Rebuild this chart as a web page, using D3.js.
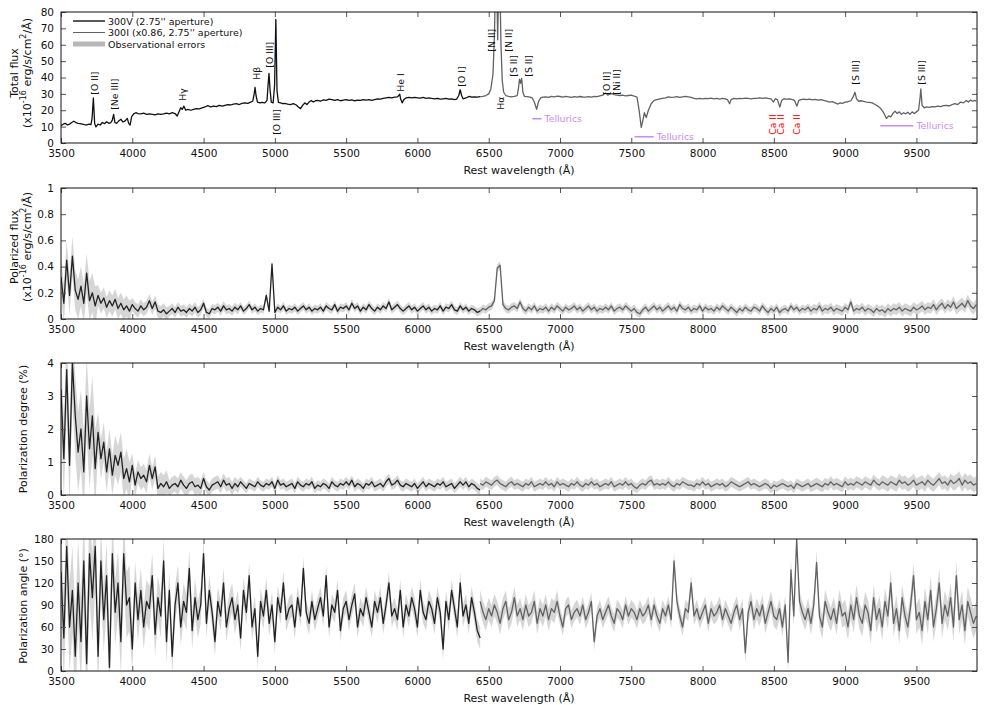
<!DOCTYPE html>
<html><head><meta charset="utf-8">
<script src="https://cdn.jsdelivr.net/npm/d3@7"></script>
<style>body{margin:0;background:#fff} text{font-family:"DejaVu Sans",sans-serif}</style>
</head><body><svg id="c" width="996" height="705"></svg>
<script>
// ---------------- DATA ----------------
const xTicks = [3500,4000,4500,5000,5500,6000,6500,7000,7500,8000,8500,9000,9500];
const tfTicks = [0,10,20,30,40,50,60,70,80];
const pfTicks = [0,0.2,0.4,0.6,0.8,1];
const pdTicks = [0,1,2,3,4];
const paTicks = [0,30,60,90,120,150,180];
const tfTickLabels = ["0","10","20","30","40","50","60","70","80"];
const pfTickLabels = ["0","0.2","0.4","0.6","0.8","1"];

// Total flux, 300V [wavelength, flux]
const tfV = [[3500,10.5],[3515,11.5],[3530,12],[3545,11],[3560,11.5],[3575,12.5],[3590,13.3],[3605,12.5],[3620,12],[3635,11.8],[3650,11.5],[3665,11.2],[3680,11],[3695,11.5],[3710,11.2],[3718,15],[3727,27.5],[3736,12],[3745,9.8],[3760,11.5],[3775,11],[3790,12.5],[3805,11.8],[3820,13],[3835,12],[3850,12.5],[3860,14],[3869,17.5],[3878,12.5],[3890,12],[3905,13.5],[3920,14.5],[3935,12.8],[3950,13.5],[3965,15],[3975,12],[3985,11],[3995,16],[4010,17.8],[4025,18.5],[4040,18],[4060,17.8],[4080,18.2],[4100,17.5],[4120,17.8],[4140,17.5],[4160,17.2],[4180,17.8],[4200,17.5],[4220,17.8],[4240,18.2],[4260,17.8],[4280,18.5],[4300,18],[4315,16.5],[4330,19.5],[4340,21.5],[4350,20.5],[4362,22.5],[4375,20],[4390,20.5],[4410,20],[4430,20.5],[4450,21],[4470,20.8],[4490,21.5],[4510,22],[4530,22.8],[4550,22],[4570,22.5],[4590,22.2],[4610,23],[4630,22.5],[4650,23],[4670,23.5],[4690,23.2],[4710,23.8],[4730,24],[4750,23.5],[4770,24.2],[4790,24.5],[4810,24.2],[4830,25],[4845,25.5],[4855,30],[4861,34],[4868,29],[4878,25],[4895,24.5],[4910,24.8],[4930,24.5],[4945,26],[4953,36],[4959,42.5],[4966,33],[4975,25],[4988,24.5],[4998,35],[5007,75.5],[5015,32],[5025,24.8],[5040,24.5],[5055,24],[5070,24.2],[5090,23.8],[5110,23.5],[5130,24],[5150,23.2],[5165,22],[5180,21],[5195,23],[5210,24.5],[5225,23.5],[5240,25],[5255,26],[5270,25],[5285,25.8],[5300,26],[5320,25.5],[5340,26.3],[5360,26],[5380,26.8],[5400,26.5],[5420,26],[5440,26.5],[5460,25.8],[5480,26.2],[5500,26.5],[5520,26],[5540,26.3],[5560,25.8],[5580,26.2],[5600,26],[5620,26.5],[5640,26.2],[5660,26.5],[5680,26],[5700,26.5],[5720,27],[5740,26.8],[5760,27.2],[5780,27.5],[5800,27.8],[5820,27.5],[5840,28],[5860,28.2],[5870,29],[5876,29.8],[5882,27],[5893,24.5],[5905,26.5],[5920,27.5],[5940,27.8],[5960,27.5],[5980,27.8],[6000,27.6],[6020,27.4],[6040,27.8],[6060,27.3],[6080,27.5],[6100,27.2],[6120,27],[6140,27.3],[6160,26.8],[6180,27],[6200,27.2],[6220,26.8],[6240,27],[6260,26.5],[6275,26.8],[6290,29],[6300,32.5],[6310,29],[6320,27],[6340,27.5],[6364,28.5],[6380,28],[6400,28.2],[6420,28],[6440,28.3]];

// Total flux, 300I (x0.86) [wavelength, flux]
const tfI = [[6440,28.3],[6460,28.5],[6480,29],[6500,30],[6515,33],[6530,42],[6540,65],[6548,100],[6556,100],[6563,63],[6570,100],[6578,100],[6586,60],[6595,38],[6605,31],[6620,29],[6640,28.5],[6660,28.2],[6680,28.5],[6700,29],[6708,33],[6716,39],[6723,36.5],[6731,39.5],[6740,31],[6750,28.5],[6770,28.3],[6790,28],[6805,27.5],[6820,25],[6836,20.5],[6850,25.5],[6865,27.5],[6880,28],[6900,28.2],[6920,27.8],[6940,28.5],[6960,28.2],[6980,28.6],[7000,28.4],[7020,28],[7040,28.5],[7060,28.2],[7080,27.8],[7100,28.3],[7120,28],[7140,28.4],[7160,28.1],[7180,28],[7200,28.3],[7220,28],[7240,28.5],[7260,28.3],[7280,28.8],[7300,29.2],[7320,30.5],[7335,29.3],[7350,29.8],[7365,30.2],[7380,29.5],[7400,29.3],[7420,29],[7440,29.2],[7460,28.8],[7480,29],[7500,29.2],[7520,28.7],[7540,28],[7555,20],[7570,9.5],[7582,14],[7592,18.5],[7605,15.5],[7620,20],[7640,24],[7660,26],[7680,26.5],[7700,27],[7720,27.3],[7740,27.6],[7760,28.2],[7780,27.8],[7800,28],[7820,28.3],[7840,27.9],[7860,28.2],[7880,28.5],[7900,28.2],[7920,27.8],[7940,27.2],[7960,27],[7980,27.3],[8000,27],[8020,27.3],[8040,27.1],[8060,27.4],[8080,27],[8100,27.2],[8120,26.8],[8140,27.2],[8160,27],[8175,26.5],[8190,24],[8200,26.5],[8220,27.2],[8240,27],[8260,27.3],[8280,27.1],[8300,27.4],[8320,27.2],[8340,27],[8360,27.3],[8380,27.2],[8400,27.5],[8420,27.3],[8440,27.5],[8460,27.2],[8480,27],[8498,25],[8510,27],[8525,26.5],[8542,22],[8555,26],[8570,27],[8590,26.8],[8610,27],[8630,26.5],[8645,26],[8662,22.5],[8675,26],[8690,26.5],[8710,26.8],[8730,26.5],[8750,26.8],[8770,26.4],[8790,26.7],[8810,26.2],[8830,26.5],[8850,26],[8870,25.5],[8890,25],[8910,25.3],[8930,24.5],[8950,23.8],[8965,24.5],[8980,24.2],[9000,25],[9020,25.2],[9040,25.8],[9055,28],[9069,31],[9080,27],[9095,25.5],[9110,25.8],[9130,25.4],[9150,25],[9170,24.8],[9190,24.5],[9210,23.5],[9230,22.5],[9250,21],[9270,18.5],[9290,15],[9305,16.5],[9320,16],[9335,18],[9350,19.5],[9365,18],[9380,19],[9395,17.5],[9410,18.5],[9425,17.8],[9440,18.8],[9455,17.5],[9470,19],[9485,18],[9500,19],[9515,20],[9525,27],[9531,33],[9540,23],[9555,21.5],[9570,22],[9590,21.8],[9610,22.2],[9630,22],[9650,22.5],[9670,22.2],[9690,22.8],[9710,23],[9730,22.6],[9750,23.4],[9770,24],[9790,23.5],[9810,25],[9830,24.5],[9850,26],[9865,25],[9880,26.2],[9895,25.5],[9910,26],[9920,25.5]];

// Sampled spectra: 300V from 3500 Å, 300I from 6440 Å, every 20 Å
const startV = 3500, startI = 6440, stepA = 20;

const pfV = [0.32,0.12,0.45,0.18,0.48,0.22,0.15,0.25,0.12,0.35,0.14,
0.20,0.10,0.18,0.12,0.16,0.09,0.14,0.10,0.15,0.08,
0.12,0.07,0.10,0.06,0.11,0.08,0.06,0.10,0.07,0.09,
0.14,0.08,0.13,0.06,0.05,0.07,0.04,0.06,0.08,0.05,
0.09,0.06,0.07,0.05,0.08,0.06,0.09,0.05,0.07,0.12,
0.05,0.04,0.08,0.07,0.09,0.06,0.10,0.07,0.08,0.06,
0.09,0.07,0.10,0.06,0.08,0.11,0.07,0.09,0.06,0.08,
0.07,0.18,0.06,0.42,0.05,0.09,0.07,0.10,0.06,0.08,
0.07,0.09,0.06,0.08,0.10,0.07,0.09,0.06,0.08,0.07,
0.09,0.06,0.10,0.08,0.07,0.11,0.06,0.09,0.08,0.10,
0.07,0.12,0.08,0.10,0.06,0.09,0.07,0.11,0.08,0.06,
0.09,0.07,0.10,0.08,0.13,0.07,0.09,0.11,0.08,0.06,
0.08,0.10,0.07,0.09,0.06,0.08,0.10,0.07,0.09,0.06,
0.08,0.07,0.10,0.06,0.09,0.08,0.11,0.07,0.06,0.10,
0.07,0.09,0.06,0.08,0.07,0.05,0.06];
const pfI = [0.06,0.08,0.07,0.09,
0.10,0.14,0.39,0.41,0.11,0.08,0.07,0.09,0.10,0.08,
0.13,0.08,0.06,0.09,0.07,0.10,0.06,0.08,0.07,0.09,
0.06,0.09,0.07,0.10,0.08,0.06,0.09,0.07,0.08,0.10,
0.07,0.09,0.06,0.08,0.10,0.07,0.09,0.06,0.08,0.07,
0.09,0.07,0.10,0.06,0.08,0.09,0.07,0.10,0.08,0.06,
0.08,0.05,0.04,0.07,0.09,0.06,0.08,0.10,0.07,0.09,
0.06,0.08,0.10,0.07,0.09,0.06,0.11,0.08,0.07,0.09,
0.06,0.08,0.07,0.10,0.06,0.09,0.07,0.08,0.06,0.09,
0.07,0.10,0.08,0.06,0.09,0.07,0.05,0.08,0.06,0.09,
0.07,0.06,0.09,0.08,0.06,0.10,0.07,0.05,0.08,0.06,
0.09,0.05,0.07,0.08,0.06,0.10,0.07,0.09,0.06,0.08,
0.07,0.09,0.06,0.08,0.07,0.10,0.06,0.08,0.07,0.09,
0.06,0.08,0.07,0.06,0.09,0.07,0.13,0.06,0.08,0.07,
0.09,0.06,0.08,0.07,0.05,0.08,0.06,0.07,0.05,0.08,
0.06,0.08,0.07,0.09,0.06,0.08,0.07,0.06,0.09,0.07,
0.08,0.10,0.07,0.09,0.08,0.11,0.07,0.10,0.12,0.08,
0.11,0.09,0.13,0.08,0.10,0.12,0.09,0.14,0.10,0.08,
0.11];

const pdV = [3.2,1.1,3.8,0.9,4.0,2.4,1.3,2.0,0.7,3.0,1.4,
2.4,0.8,1.9,1.1,1.6,0.7,1.4,0.6,1.2,0.9,
1.3,0.5,0.8,0.4,0.9,0.3,0.7,0.5,0.6,0.4,
0.9,0.5,0.85,0.2,0.35,0.25,0.4,0.2,0.3,0.35,
0.25,0.45,0.3,0.2,0.35,0.4,0.25,0.3,0.2,0.5,
0.25,0.15,0.3,0.35,0.4,0.25,0.45,0.3,0.35,0.2,
0.35,0.25,0.4,0.3,0.2,0.35,0.3,0.25,0.4,0.3,
0.25,0.35,0.3,0.4,0.2,0.45,0.3,0.35,0.25,0.3,
0.35,0.2,0.4,0.3,0.25,0.35,0.3,0.4,0.2,0.3,
0.25,0.35,0.3,0.2,0.4,0.3,0.25,0.35,0.3,0.4,
0.3,0.45,0.25,0.35,0.3,0.2,0.35,0.3,0.4,0.25,
0.3,0.35,0.25,0.4,0.5,0.3,0.35,0.45,0.3,0.25,
0.35,0.3,0.25,0.35,0.2,0.3,0.4,0.25,0.35,0.3,
0.25,0.35,0.3,0.4,0.25,0.3,0.35,0.2,0.3,0.4,
0.3,0.4,0.25,0.35,0.3,0.2,0.15];
const pdI = [0.35,0.3,0.4,0.35,
0.3,0.4,0.45,0.35,0.3,0.25,0.35,0.4,0.3,0.35,
0.3,0.25,0.35,0.3,0.4,0.25,0.3,0.35,0.3,0.4,
0.3,0.35,0.25,0.4,0.3,0.35,0.3,0.25,0.35,0.3,
0.4,0.3,0.25,0.35,0.3,0.4,0.3,0.35,0.25,0.3,
0.35,0.3,0.4,0.25,0.3,0.35,0.3,0.4,0.3,0.35,
0.25,0.2,0.3,0.35,0.3,0.4,0.45,0.3,0.35,0.3,
0.35,0.3,0.4,0.3,0.25,0.35,0.3,0.4,0.35,0.3,
0.3,0.25,0.35,0.3,0.4,0.3,0.35,0.25,0.3,0.35,
0.3,0.35,0.25,0.3,0.4,0.35,0.3,0.25,0.3,0.35,
0.4,0.3,0.35,0.3,0.25,0.3,0.35,0.3,0.2,0.3,
0.25,0.3,0.35,0.3,0.25,0.3,0.2,0.35,0.3,0.25,
0.3,0.35,0.25,0.3,0.35,0.3,0.25,0.35,0.3,0.4,
0.3,0.35,0.3,0.25,0.4,0.3,0.35,0.3,0.4,0.35,
0.3,0.4,0.35,0.3,0.45,0.35,0.3,0.4,0.35,0.3,
0.4,0.35,0.3,0.45,0.35,0.4,0.3,0.35,0.45,0.3,
0.35,0.4,0.3,0.45,0.35,0.3,0.4,0.5,0.35,0.4,
0.3,0.45,0.35,0.4,0.5,0.3,0.45,0.35,0.4,0.3,
0.35];

const paV = [135,45,170,60,110,20,120,40,150,10,160,
100,170,20,150,70,130,5,160,80,120,
40,160,90,100,30,120,70,110,60,95,
85,130,50,100,75,150,40,110,20,90,
120,60,95,80,140,55,100,70,90,160,
65,110,80,40,95,75,120,60,85,100,
70,90,45,110,80,130,60,85,20,95,
75,110,65,90,40,100,80,120,70,85,
90,60,100,75,140,80,65,95,70,85,
100,75,130,60,90,80,110,55,85,95,
70,90,105,60,85,75,100,80,60,95,
80,100,65,90,120,75,85,70,110,60,
90,75,100,85,60,110,80,70,95,85,
65,100,80,30,95,70,110,85,60,120,
75,90,65,100,80,55,45];
const paI = [95,80,70,85,
75,90,80,65,85,95,70,80,100,75,
85,70,90,75,80,95,65,85,75,90,
70,85,80,95,75,60,85,90,70,80,
85,75,90,70,80,95,40,75,85,70,
80,90,75,65,85,80,70,90,75,85,
80,70,85,75,80,90,70,90,75,65,
85,75,90,70,150,95,75,60,85,80,
120,75,85,70,80,90,65,85,75,80,
90,70,85,75,65,80,90,70,85,25,
80,95,70,85,75,90,65,80,95,75,
70,85,60,90,12,138,75,180,95,80,
70,85,65,90,148,75,60,95,80,70,
85,65,95,75,80,60,90,70,100,75,
65,90,80,55,100,70,85,60,95,75,
120,65,85,55,100,75,60,90,130,70,
80,55,95,70,110,60,85,120,65,90,
75,100,60,130,70,90,55,95,80,65,
75];

// Observational errors, one value per 250 Å bin starting at 3500 Å
const errBin = 250;
const pfErr = [0.15,0.08,0.05,0.04,0.035,0.03,0.03,0.03,0.03,0.03,0.03,0.03,0.03,0.03,0.03,0.03,0.03,0.03,0.03,0.03,0.03,0.035,0.035,0.04,0.04,0.045];
const pdErr = [1.2,0.6,0.35,0.25,0.2,0.15,0.15,0.15,0.15,0.15,0.15,0.15,0.15,0.15,0.15,0.15,0.15,0.15,0.15,0.15,0.15,0.17,0.17,0.2,0.2,0.22];
const paErr = [60,45,30,25,20,18,16,15,15,15,15,15,15,15,12,12,12,12,12,14,14,16,18,18,20,20];

// Line identifications (label, wavelength where label sits, flux level of its lower end)
const lineNames = ["[O II]","[Ne III]","Hγ","Hβ","[O III]","[O III]","He I","[O I]","[N II]","Hα","[N II]","[S II]","[S II]","[O II]","[Ni II]","[S III]","[S III]"];
const lineWaves = [3738,3878,4355,4874,4965,5014,5883,6311,6521,6582,6640,6675,6780,7325,7397,9072,9535];
const lineLevels = [29.5,20.3,25.8,38.7,46,5,31.3,34.4,55.8,20.3,55.8,40.5,40.5,29.5,29.5,35.6,35.6];
const caNames = ["Ca II","Ca II","Ca II"];
const caWaves = [8488,8547,8659];
const caLevel = 5;
// Telluric bands [from, to], label level
const tellFrom = [6806,7523,9247];
const tellTo = [6871,7657,9479];
const tellLevel = [14.8,3.8,10.5];

const legendNames = ["300V (2.75'' aperture)","300I (x0.86, 2.75'' aperture)","Observational errors"];

// ---------------- DRAW ----------------
const svg = d3.select("#c");
const L = 61, R = 977;
const x = d3.scaleLinear().domain([3500, 9925]).range([L, R]);
const panels = [
  {top:12, bot:143, dom:[0,80], ticks:tfTicks, labels:tfTickLabels},
  {top:188, bot:319, dom:[0,1], ticks:pfTicks, labels:pfTickLabels},
  {top:363, bot:495, dom:[0,4], ticks:pdTicks},
  {top:539, bot:671, dom:[0,180], ticks:paTicks}
];
const C_V = "#111", C_I = "#626262", C_ERR = "#cfcfcf";

panels.forEach((p, i) => {
  p.y = d3.scaleLinear().domain(p.dom).range([p.bot, p.top]);
  svg.append("clipPath").attr("id", "cp" + i).append("rect")
    .attr("x", L).attr("y", p.top).attr("width", R - L).attr("height", p.bot - p.top);
  p.g = svg.append("g").attr("clip-path", `url(#cp${i})`);
});

function sampled(arr, start) { return arr.map((v, k) => [start + k * stepA, v]); }
function band(p, pts, errs, color) {
  const e = w => errs[Math.min(errs.length - 1, Math.floor((w - 3500) / errBin))];
  p.g.append("path").datum(pts)
    .attr("fill", color).attr("opacity", 0.85)
    .attr("d", d3.area().x(d => x(d[0])).y0(d => p.y(d[1] - e(d[0]))).y1(d => p.y(d[1] + e(d[0])))(pts));
}
function line(p, pts, color, w) {
  p.g.append("path").attr("fill", "none").attr("stroke", color).attr("stroke-width", w)
    .attr("stroke-linejoin", "round")
    .attr("d", d3.line().x(d => x(d[0])).y(d => p.y(d[1]))(pts));
}

// Panel 1
line(panels[0], tfV, C_V, 1.3);
line(panels[0], tfI, C_I, 1.3);

// Panels 2-4
[[pfV, pfI, pfErr], [pdV, pdI, pdErr], [paV, paI, paErr]].forEach((s, j) => {
  const p = panels[j + 1];
  const v = sampled(s[0], startV), iI = sampled(s[1], startI);
  band(p, v, s[2], C_ERR);
  band(p, iI, s[2], C_ERR);
  line(p, v, "#222", 1.3);
  line(p, iI, C_I, 1.3);
});

// Axes and frames
panels.forEach((p, i) => {
  const gb = svg.append("g").attr("transform", `translate(0,${p.bot})`)
    .call(d3.axisBottom(x).tickValues(xTicks).tickSize(-5).tickPadding(7).tickFormat(d3.format("d")));
  const gt = svg.append("g").attr("transform", `translate(0,${p.top})`)
    .call(d3.axisTop(x).tickValues(xTicks).tickSize(-5).tickFormat(""));
  const gl = svg.append("g").attr("transform", `translate(${L},0)`)
    .call(d3.axisLeft(p.y).tickValues(p.ticks).tickSize(-5).tickPadding(7)
      .tickFormat((d, k) => p.labels ? p.labels[k] : String(d)));
  const gr = svg.append("g").attr("transform", `translate(${R},0)`)
    .call(d3.axisRight(p.y).tickValues(p.ticks).tickSize(-5).tickFormat(""));
  [gb, gt, gl, gr].forEach(g => {
    g.select(".domain").remove();
    g.selectAll(".tick line").attr("stroke", "#555");
    g.selectAll("text").attr("font-size", "10.5px").attr("fill", "#111").attr("font-family", "DejaVu Sans");
  });
  svg.append("rect").attr("x", L).attr("y", p.top).attr("width", R - L).attr("height", p.bot - p.top)
    .attr("fill", "none").attr("stroke", "#111").attr("stroke-width", 1);
  svg.append("text").attr("x", (L + R) / 2).attr("y", p.bot + 31).attr("text-anchor", "middle")
    .attr("font-size", "11px").attr("fill", "#111").text("Rest wavelength (Å)");
});

// Y titles
function yTitle(xp, yp, parts) {
  const t = svg.append("text").attr("transform", `translate(${xp},${yp}) rotate(-90)`)
    .attr("text-anchor", "middle").attr("dominant-baseline", "central")
    .attr("font-size", "11px").attr("fill", "#111");
  parts.forEach(pt => {
    const ts = t.append("tspan").text(pt[0]);
    if (pt[1]) ts.attr("dy", pt[1]);
    if (pt[2]) ts.attr("font-size", pt[2]);
  });
}
const fluxUnit = [["(x10"], ["-16", -4, "8px"], [" erg/s/cm", 4], ["2", -4, "8px"], ["/Å)", 4]];
yTitle(14, 73, [["Total flux"]]);
yTitle(27, 73, fluxUnit);
yTitle(14, 247, [["Polarized flux"]]);
yTitle(27, 247, fluxUnit);
yTitle(23, 429, [["Polarization degree (%)"]]);
yTitle(23, 606, [["Polarization angle (°)"]]);

// Line labels
const p1 = panels[0];
lineNames.forEach((n, k) => {
  svg.append("text").attr("transform", `translate(${x(lineWaves[k])},${p1.y(lineLevels[k])}) rotate(-90)`)
    .attr("dominant-baseline", "central").attr("font-size", "9.3px").attr("fill", "#111").text(n);
});
caNames.forEach((n, k) => {
  svg.append("text").attr("transform", `translate(${x(caWaves[k])},${p1.y(caLevel)}) rotate(-90)`)
    .attr("dominant-baseline", "central").attr("font-size", "9.3px").attr("fill", "#f00").text(n);
});
tellFrom.forEach((f, k) => {
  const yy = p1.y(tellLevel[k]);
  svg.append("line").attr("x1", x(f)).attr("x2", x(tellTo[k])).attr("y1", yy).attr("y2", yy)
    .attr("stroke", "#c58cf5").attr("stroke-width", 1.5);
  svg.append("text").attr("x", x(tellTo[k]) + 3).attr("y", yy).attr("dominant-baseline", "central")
    .attr("font-size", "9.3px").attr("fill", "#c58cf5").text("Tellurics");
});

// Legend
const legY = [21, 32.5, 44];
const legStyle = [[C_V, 1.4], [C_I, 1], ["#b8b8b8", 5]];
legendNames.forEach((n, k) => {
  svg.append("line").attr("x1", 73).attr("x2", 105).attr("y1", legY[k]).attr("y2", legY[k])
    .attr("stroke", legStyle[k][0]).attr("stroke-width", legStyle[k][1]);
  svg.append("text").attr("x", 108).attr("y", legY[k]).attr("dominant-baseline", "central")
    .attr("font-size", "9.5px").attr("fill", "#111").text(n);
});
</script></body></html>
